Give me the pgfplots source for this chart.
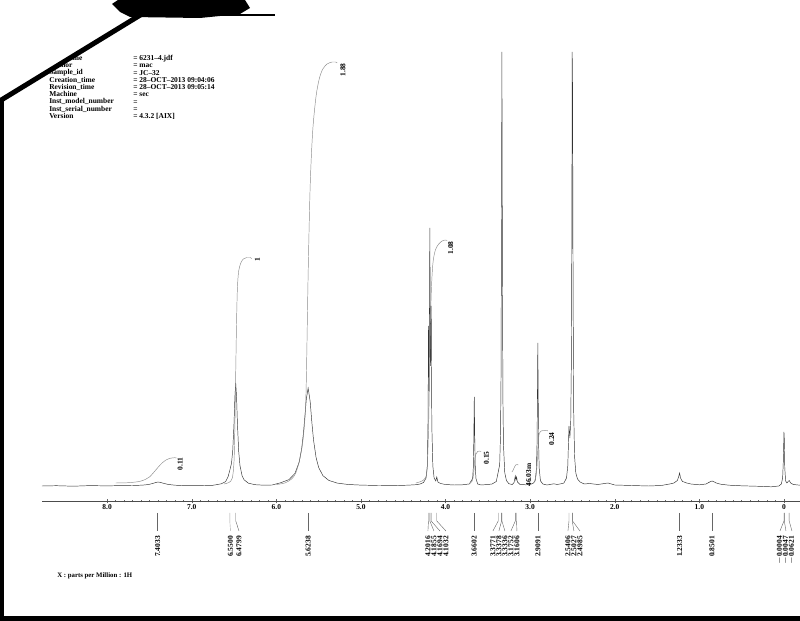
\documentclass[border=0pt]{standalone}
\usepackage{pgfplots}
\pgfplotsset{compat=1.18}
\usepackage{fontspec}
\setmainfont{Liberation Serif}
\newcommand\lblfont{\fontsize{5.6}{6}\selectfont\bfseries}
\newcommand\hdrfont{\fontsize{5.6}{5.44}\selectfont\bfseries}
\tikzset{
  pickline/.style={black!60, line width=0.3pt},
  pklabel/.style={rotate=90, anchor=east, font=\lblfont, inner sep=0pt},
  intlabel/.style={rotate=90, font=\lblfont, inner sep=0pt},
  integ/.style={black!45, line width=0.35pt, smooth},
}
\begin{document}
\begin{tikzpicture}
\path[use as bounding box] (0,0) rectangle (600pt,465.75pt);
\begin{axis}[
  at={(31.5pt,90pt)}, anchor=south west,
  scale only axis, width=568.5pt, height=345.75pt,
  x dir=reverse, xmin=-0.19, xmax=8.77, ymin=-15, ymax=446,
  axis x line=bottom, axis y line=none, ytick=\empty,
  x axis line style={-, black!70, line width=0.4pt},
  xtick={0,1,...,8}, xticklabels={0,1.0,2.0,3.0,4.0,5.0,6.0,7.0,8.0},
  minor x tick num=9,
  tick align=center, major tick length=3.5pt, minor tick length=2pt,
  every tick/.style={black!60, line width=0.3pt},
  xticklabel style={font=\lblfont, inner sep=1pt},
  clip=false,
]
% spectrum
\addplot[black!80, line width=0.35pt, sharp plot] coordinates {
(8.77,0) (8.6,0.3) (8.4,-0.2) (8.2,0.4) (8.0,0.1) (7.90,0.3) (7.70,0.5) (7.60,0.8) (7.55,1.1) (7.50,1.7) (7.46,2.6) (7.42,3.6) (7.40,4.0) (7.37,3.6) (7.33,2.6) (7.28,1.6) (7.20,0.8) (7.10,0.4) (7.00,0.3) (6.90,0.4) (6.75,0.7) (6.65,2.2) (6.60,4.3) (6.57,9.4) (6.55,15.7) (6.53,22.6) (6.515,35.8) (6.50,62.8) (6.49,88.8) (6.48,103) (6.47,88.8) (6.46,62.8) (6.445,34.8) (6.43,20.6) (6.405,10.3) (6.38,6.1) (6.33,2.8) (6.25,1.3) (6.15,0.8) (6.05,1.0) (5.95,3.2) (5.85,6.4) (5.78,12.6) (5.73,23.8) (5.70,37.7) (5.68,52.4) (5.66,72) (5.645,87.3) (5.624,98) (5.60,84.5) (5.58,63.6) (5.56,45.8) (5.53,28.4) (5.50,18.6) (5.45,10.4) (5.38,5.6) (5.28,2.9) (5.15,1.5) (5.00,0.9) (4.80,0.5) (4.60,0.4) (4.45,0.8) (4.35,1.3) (4.30,2.0) (4.26,3.5) (4.23,8) (4.215,20) (4.206,70) (4.2016,160) (4.194,95) (4.1855,258) (4.178,120) (4.1694,180) (4.162,60) (4.15,20) (4.135,8) (4.115,5) (4.1032,9) (4.09,4) (4.06,2.5) (4.00,1.5) (3.90,1.0) (3.80,1.2) (3.72,2.0) (3.68,7.4) (3.672,17.8) (3.666,44.5) (3.6602,89) (3.654,44.5) (3.648,17.8) (3.64,7.4) (3.62,2.0) (3.58,1.0) (3.50,1.5) (3.45,2.0) (3.40,4.5) (3.3771,14) (3.36,21.3) (3.35,51) (3.3438,111.6) (3.3378,291) (3.3336,434) (3.3276,217) (3.3216,86.8) (3.315,41) (3.30,13.4) (3.28,5.4) (3.25,2.2) (3.21,1.5) (3.19,3.5) (3.1752,10) (3.168,6) (3.1606,9) (3.15,4) (3.12,1.5) (3.05,1.2) (3.00,1.5) (2.96,3) (2.94,5.2) (2.925,17.9) (2.918,44) (2.9141,84.6) (2.9091,143) (2.904,84.6) (2.90,44) (2.893,17.9) (2.878,5.2) (2.85,2.0) (2.80,1.0) (2.72,2.2) (2.68,1.5) (2.62,2.5) (2.60,3) (2.57,8) (2.555,20) (2.5406,60) (2.53,48) (2.52,65) (2.512,130) (2.5067,260) (2.5027,434) (2.4985,400) (2.492,190) (2.485,75) (2.475,30) (2.46,13) (2.44,7) (2.41,4) (2.36,2) (2.30,2.5) (2.20,1.5) (2.08,3) (2.00,1.0) (1.80,0.5) (1.60,0) (1.45,0.5) (1.35,2) (1.30,3) (1.26,5.5) (1.245,9) (1.2333,13) (1.222,8) (1.20,4.5) (1.18,4) (1.15,3) (1.10,2) (1.00,1.2) (0.92,2) (0.90,3) (0.87,4.3) (0.85,5) (0.83,4.3) (0.80,3) (0.75,1.8) (0.65,0.8) (0.50,0.2) (0.30,-0.3) (0.15,-0.8) (0.06,0) (0.03,2) (0.015,8.5) (0.008,23) (0.003,40) (-0.0004,54) (-0.0047,47) (-0.01,18) (-0.02,5) (-0.035,3) (-0.05,4.5) (-0.0621,5.5) (-0.08,3) (-0.11,1.5) (-0.19,0.8)
};
% integrals
\addplot[integ] coordinates {(7.90,3) (7.75,3.3) (7.62,4.5) (7.55,6.5) (7.50,9) (7.45,13.5) (7.40,18.5) (7.35,23) (7.30,26.2) (7.25,27.8) (7.20,28.3) (7.18,28)};
\addplot[integ] coordinates {(6.62,2) (6.56,3.5) (6.52,8) (6.50,25) (6.49,60) (6.48,114) (6.47,165) (6.46,198) (6.445,215) (6.42,223) (6.39,227) (6.35,228.5) (6.31,228.5) (6.29,227.5)};
\addplot[integ] coordinates {(6.00,1.5) (5.90,3) (5.82,7) (5.77,13) (5.72,28) (5.68,50) (5.65,90) (5.624,212) (5.60,300) (5.57,355) (5.53,390) (5.49,408) (5.45,417) (5.40,422) (5.34,424) (5.30,424) (5.28,423)};
\addplot[integ] coordinates {(4.35,3) (4.26,6) (4.22,15) (4.20,60) (4.185,130) (4.17,190) (4.15,222) (4.12,236) (4.08,242) (4.04,245) (4.00,246) (3.98,245.5)};
\addplot[integ] coordinates {(3.72,2) (3.685,5) (3.668,12) (3.66,20) (3.652,28) (3.64,32) (3.62,34.5) (3.60,35) (3.58,34.5)};
\addplot[integ] coordinates {(3.215,14) (3.20,16) (3.185,19) (3.17,21) (3.155,21.5) (3.14,21)};
\addplot[integ] coordinates {(2.96,3) (2.935,8) (2.92,18) (2.91,35) (2.90,48) (2.89,53) (2.87,55) (2.84,55.5) (2.80,55.5) (2.79,55)};
% integral labels
\node[intlabel] at (axis cs:7.136,22) {0.11};
\node[intlabel] at (axis cs:6.225,226) {1};
\node[intlabel] at (axis cs:5.213,416) {1.88};
\node[intlabel] at (axis cs:3.94,238) {1.08};
\node[intlabel] at (axis cs:3.515,28) {0.15};
\node[intlabel] at (axis cs:3.018,11) {46.03m};
\node[intlabel] at (axis cs:2.746,47) {0.24};
% peak picks
\addplot[pickline] coordinates {(7.4033,-27) (7.4033,-35) (7.4033,-45)};
\node[pklabel] at (axis cs:7.4033,-50) {7.4033};
\addplot[pickline, black!35] coordinates {(6.55,-27) (6.55,-35) (6.542,-45)};
\node[pklabel] at (axis cs:6.542,-50) {6.5500};
\addplot[pickline] coordinates {(6.4799,-27) (6.4799,-35) (6.441,-45)};
\node[pklabel] at (axis cs:6.441,-50) {6.4799};
\addplot[pickline] coordinates {(5.6238,-27) (5.6238,-35) (5.6238,-45)};
\node[pklabel] at (axis cs:5.6238,-50) {5.6238};
\addplot[pickline] coordinates {(4.2016,-27) (4.2016,-35) (4.208,-45)};
\node[pklabel] at (axis cs:4.208,-50) {4.2016};
\addplot[pickline] coordinates {(4.1855,-27) (4.1855,-35) (4.137,-45)};
\node[pklabel] at (axis cs:4.137,-50) {4.1855};
\addplot[pickline] coordinates {(4.1694,-27) (4.1694,-35) (4.066,-45)};
\node[pklabel] at (axis cs:4.066,-50) {4.1694};
\addplot[pickline] coordinates {(4.1032,-27) (4.1032,-35) (3.995,-45)};
\node[pklabel] at (axis cs:3.995,-50) {4.1032};
\addplot[pickline] coordinates {(3.6602,-27) (3.6602,-35) (3.6602,-45)};
\node[pklabel] at (axis cs:3.6602,-50) {3.6602};
\addplot[pickline] coordinates {(3.3771,-27) (3.3771,-35) (3.440,-45)};
\node[pklabel] at (axis cs:3.440,-50) {3.3771};
\addplot[pickline] coordinates {(3.3378,-27) (3.3378,-35) (3.369,-45)};
\node[pklabel] at (axis cs:3.369,-50) {3.3378};
\addplot[pickline] coordinates {(3.3336,-27) (3.3336,-35) (3.298,-45)};
\node[pklabel] at (axis cs:3.298,-50) {3.3336};
\addplot[pickline] coordinates {(3.1752,-27) (3.1752,-35) (3.227,-45)};
\node[pklabel] at (axis cs:3.227,-50) {3.1752};
\addplot[pickline] coordinates {(3.1606,-27) (3.1606,-35) (3.156,-45)};
\node[pklabel] at (axis cs:3.156,-50) {3.1606};
\addplot[pickline] coordinates {(2.9091,-27) (2.9091,-35) (2.9091,-45)};
\node[pklabel] at (axis cs:2.9091,-50) {2.9091};
\addplot[pickline] coordinates {(2.5406,-27) (2.5406,-35) (2.553,-45)};
\node[pklabel] at (axis cs:2.553,-50) {2.5406};
\addplot[pickline] coordinates {(2.5027,-27) (2.5027,-35) (2.482,-45)};
\node[pklabel] at (axis cs:2.482,-50) {2.5027};
\addplot[pickline] coordinates {(2.4985,-27) (2.4985,-35) (2.411,-45)};
\node[pklabel] at (axis cs:2.411,-50) {2.4985};
\addplot[pickline] coordinates {(1.2333,-27) (1.2333,-35) (1.2333,-45)};
\node[pklabel] at (axis cs:1.2333,-50) {1.2333};
\addplot[pickline] coordinates {(0.8501,-27) (0.8501,-35) (0.8501,-45)};
\node[pklabel] at (axis cs:0.8501,-50) {0.8501};
\addplot[pickline] coordinates {(-0.0004,-27) (-0.0004,-35) (0.047,-45)};
\node[pklabel] at (axis cs:0.047,-50) {$-$0.0004};
\addplot[pickline] coordinates {(-0.0047,-27) (-0.0047,-35) (-0.024,-45)};
\node[pklabel] at (axis cs:-0.024,-50) {$-$0.0047};
\addplot[pickline] coordinates {(-0.0621,-27) (-0.0621,-35) (-0.095,-45)};
\node[pklabel] at (axis cs:-0.095,-50) {$-$0.0621};
\end{axis}
% page decorations in pixel coordinates
\begin{scope}[x=0.75pt, y=-0.75pt, shift={(0pt,465.75pt)}]
\node[anchor=north west, inner sep=0pt, align=left, font=\hdrfont] at (49,55)
 {File\_name\\Author\\Sample\_id\\Creation\_time\\Revision\_time\\Machine\\Inst\_model\_number\\Inst\_serial\_number\\Version};
\node[anchor=north west, inner sep=0pt, align=left, font=\hdrfont] at (133,55)
 {= 6231--4.jdf\\= mac\\= JC--32\\= 28--OCT--2013 09:04:06\\= 28--OCT--2013 09:05:14\\= sec\\=\\=\\= 4.3.2 [AIX]};
\node[anchor=west, inner sep=0pt, font=\fontsize{5.1}{6}\selectfont\bfseries] at (57,576) {X : parts per Million : 1H};
\fill[white] (0,0) -- (0,100) -- (142,14) -- (142,0) -- cycle;
\draw[black, line width=3.75pt] (-2,102) -- (142,14);
\fill[black] (0,100) rectangle (3.5,621);
\fill[black] (0,616) rectangle (800,621);
\fill[black] (130,17) -- (120,12) -- (112,4) -- (118,0) -- (245,0) -- (250,8) -- (240,14) -- (200,18) -- cycle;
\draw[black, line width=1.5pt] (140,15) -- (275,15);
\end{scope}
\end{tikzpicture}
\end{document}
